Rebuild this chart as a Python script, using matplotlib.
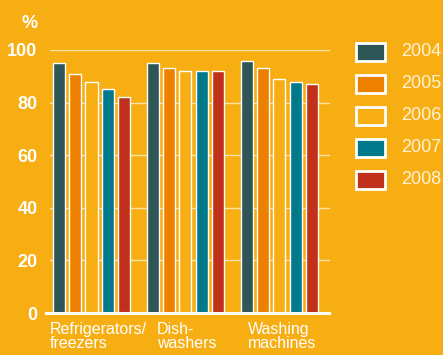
import numpy as np
import matplotlib.pyplot as plt
from matplotlib.patches import Rectangle

# data
categories = ['Refrigerators/\nfreezers', 'Dish-\nwashers', 'Washing\nmachines']
years = ['2004', '2005', '2006', '2007', '2008']
values = {
    '2004': [95, 95, 96],
    '2005': [91, 93, 93],
    '2006': [88, 92, 89],
    '2007': [85, 92, 88],
    '2008': [82, 92, 87],
}
yticks = [0, 20, 40, 60, 80, 100]

bg = '#F6AE12'
colors = ['#2E5656', '#EE8000', bg, '#00798D', '#C0301B']

W, H = 443, 355
fig = plt.figure(figsize=(W / 100, H / 100), dpi=100, facecolor=bg)
ax = fig.add_axes([50 / W, 1 - 313 / H, 280 / W, 263 / H], facecolor=bg)

group_x = np.arange(len(categories)) * 5.77
for j, y in enumerate(years):
    ax.bar(group_x + j, values[y], width=0.74, color=colors[j],
           edgecolor='white', linewidth=1.0, zorder=3)

ax.set_xlim(-0.55, 16.65)
ax.set_ylim(0, 100)
ax.set_yticks(yticks)
ax.set_yticklabels([str(t) for t in yticks], color='white', fontsize=13,
                   fontweight='bold', family='Liberation Sans')
ax.tick_params(axis='y', length=0, pad=9)
ax.set_xticks([])
for t in yticks[1:]:
    ax.axhline(t, color='#FBE3A8', linewidth=1.0, zorder=1)
ax.axhline(0, color='white', linewidth=2.2, zorder=4, xmin=-0.015, xmax=0.995,
           clip_on=False)
for s in ax.spines.values():
    s.set_visible(False)

# category labels (pixel x of their left edge)
label_px = [50, 157, 248]
for px, lab in zip(label_px, categories):
    fig.text(px / W, 1 - 322 / H, lab, ha='left', va='top', color='white',
             fontsize=11.5, family='Liberation Sans', linespacing=0.95)

fig.text(22 / W, 1 - 24 / H, '%', color='white', fontsize=13,
         fontweight='bold', family='Liberation Sans', va='center')

# legend drawn by hand
for j, y in enumerate(years):
    cy = 52 + j * 32
    fig.patches.append(Rectangle((356 / W, 1 - (cy + 9) / H), 29 / W, 18 / H,
                                 transform=fig.transFigure, facecolor=colors[j],
                                 edgecolor='white', linewidth=2.0))
    fig.text(401 / W, 1 - cy / H, y, color='#FFF3D6', fontsize=13,
             family='Liberation Sans', va='center', ha='left')

fig.savefig('out.png', dpi=100, facecolor=bg)
